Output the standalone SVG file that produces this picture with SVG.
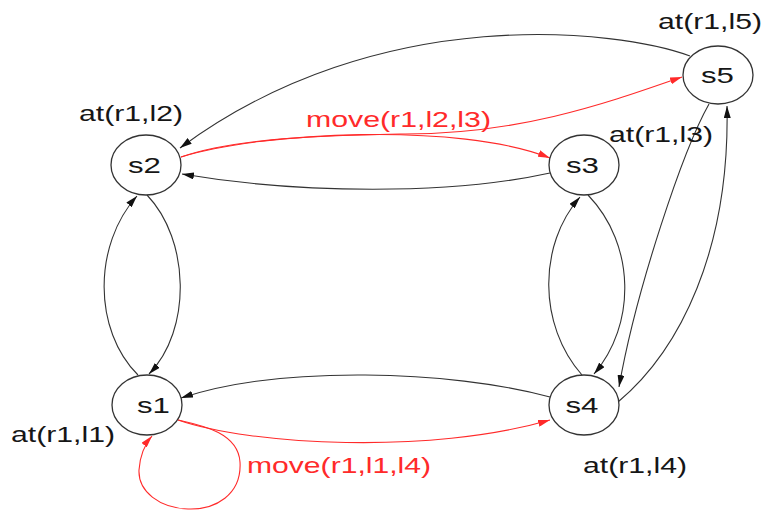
<svg xmlns="http://www.w3.org/2000/svg" width="761" height="511" viewBox="0 0 761 511">
<style>
.node ellipse{fill:#fff;stroke:#333;stroke-width:1.3}
.node text,.lbl{font-family:"Liberation Sans",Arial,sans-serif;font-size:22px;fill:#161616}
.red{fill:#ff2a2a !important}
.e{fill:none;stroke:#333;stroke-width:1.1}
.er{fill:none;stroke:#ff2a2a;stroke-width:1.1}
</style>
<defs>
<marker id="ab" viewBox="0 0 12 7" refX="12" refY="3.5" markerWidth="12" markerHeight="7" markerUnits="userSpaceOnUse" orient="auto"><path d="M0,0 L12,3.5 L0,7 z" fill="#111"/></marker>
<marker id="ar" viewBox="0 0 12 7" refX="12" refY="3.5" markerWidth="12" markerHeight="7" markerUnits="userSpaceOnUse" orient="auto"><path d="M0,0 L12,3.5 L0,7 z" fill="#ff2a2a"/></marker>
</defs>
<rect width="761" height="511" fill="#fff"/>
<g id="connectors">
<path class="e" marker-end="url(#ab)" d="M138,375 C93,330 93,245 137,196"/>
<path class="e" marker-end="url(#ab)" d="M147,195 C190,240 192,330 149,374"/>
<path class="e" marker-end="url(#ab)" d="M582,375 C538,325 538,245 580,197"/>
<path class="e" marker-end="url(#ab)" d="M588,195 C636,245 636,325 594,374"/>
<path class="e" marker-end="url(#ab)" d="M709,104 C683,150 636,290 619,387"/>
<path class="e" marker-end="url(#ab)" d="M618,402 C680,350 730,250 727,106"/>
<path class="e" marker-end="url(#ab)" d="M690,56 C620,30 380,0 180,148"/>
<path class="e" marker-end="url(#ab)" d="M550,173 C450,195 300,194 182,174"/>
<path class="e" marker-end="url(#ab)" d="M550,397 C450,370 280,365 181,398"/>
<path class="er" marker-end="url(#ar)" d="M181,157 C260,132 460,122 550,158"/>
<path class="er" marker-end="url(#ar)" d="M181,157 C230,140 300,136 400,134 C520,135 610,102 682,77"/>
<path class="er" marker-end="url(#ar)" d="M178,420 C250,445 430,455 550,420"/>
<path class="er" marker-end="url(#ar)" d="M178,420 C200,425 238,432 240,462 C242,495 215,510 188,509 C160,508 138,492 139,470 C140,455 145,444 152,436"/>
</g>
<g id="s1" class="node"><ellipse cx="147" cy="405" rx="35" ry="30"/><text x="137" y="413" textLength="33" lengthAdjust="spacingAndGlyphs">s1</text></g>
<g id="s2" class="node"><ellipse cx="146" cy="165" rx="35" ry="30"/><text x="128" y="173" textLength="33" lengthAdjust="spacingAndGlyphs">s2</text></g>
<g id="s3" class="node"><ellipse cx="584" cy="165" rx="35" ry="30"/><text x="566" y="173" textLength="33" lengthAdjust="spacingAndGlyphs">s3</text></g>
<g id="s4" class="node"><ellipse cx="584" cy="405" rx="35" ry="30"/><text x="565.5" y="413" textLength="33" lengthAdjust="spacingAndGlyphs">s4</text></g>
<g id="s5" class="node"><ellipse cx="718" cy="75" rx="35" ry="29"/><text x="701" y="83" textLength="33" lengthAdjust="spacingAndGlyphs">s5</text></g>
<g id="labels">
<text class="lbl" x="79" y="121" textLength="104" lengthAdjust="spacingAndGlyphs">at(r1,l2)</text>
<text class="lbl" x="658" y="29" textLength="104" lengthAdjust="spacingAndGlyphs">at(r1,l5)</text>
<text class="lbl" x="609" y="142" textLength="104" lengthAdjust="spacingAndGlyphs">at(r1,l3)</text>
<text class="lbl" x="11" y="442" textLength="104" lengthAdjust="spacingAndGlyphs">at(r1,l1)</text>
<text class="lbl" x="583" y="473" textLength="104" lengthAdjust="spacingAndGlyphs">at(r1,l4)</text>
<text class="lbl red" x="306" y="127" textLength="185" lengthAdjust="spacingAndGlyphs">move(r1,l2,l3)</text>
<text class="lbl red" x="247" y="473" textLength="184" lengthAdjust="spacingAndGlyphs">move(r1,l1,l4)</text>
</g>
</svg>
